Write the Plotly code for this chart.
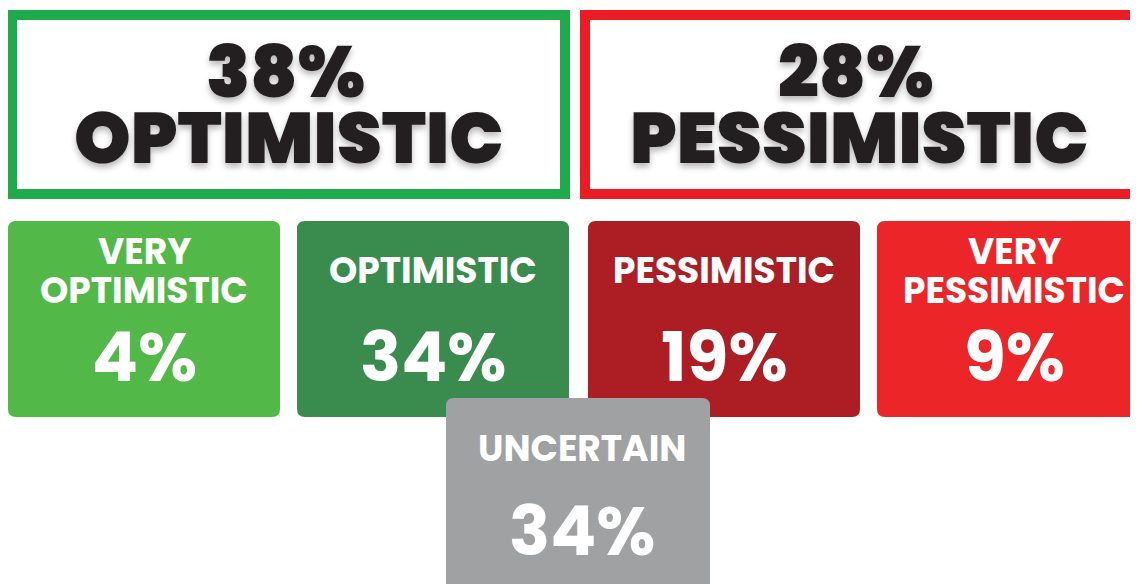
import plotly.graph_objects as go

# ---- data ----
summary_labels = ["OPTIMISTIC", "PESSIMISTIC"]
summary_values = [38, 28]
tile_labels = [["VERY", "OPTIMISTIC"], ["OPTIMISTIC"], ["PESSIMISTIC"], ["VERY", "PESSIMISTIC"], ["UNCERTAIN"]]
tile_values = [4, 34, 19, 9, 34]

# ---- style / layout ----
W, H = 1138, 584
PAD = 8  # page body margin
summary_colors = ["#1FAA4B", "#EC1C24"]
summary_boxes = [(7, 570, 10, 199), (580, 1142, 10, 199)]
tile_colors = ["#52B848", "#3A8C4E", "#AC1E24", "#EC2628", "#A0A1A3"]
tile_boxes = [(8, 280, 221, 417), (297, 569, 221, 417), (588, 860, 221, 417),
              (877, 1150, 221, 417), (446, 710, 398, 600)]
text_cx = [144, 433, 724, 1014, 582]
label_y = {1: [270], 2: [251, 290]}
num_y = [357, 357, 357, 357, 531]
label_y_gray = 448

FONT = "Poppins, Inter, 'Open Sans', Arial, sans-serif"

def rrect(x0, x1, y0, y1, r=8):
    return (f"M{x0+r},{y0} L{x1-r},{y0} Q{x1},{y0} {x1},{y0+r} "
            f"L{x1},{y1-r} Q{x1},{y1} {x1-r},{y1} L{x0+r},{y1} "
            f"Q{x0},{y1} {x0},{y1-r} L{x0},{y0+r} Q{x0},{y0} {x0+r},{y0} Z")

fig = go.Figure()
fig.add_trace(go.Scatter(x=[PAD, W], y=[PAD, H], mode="markers",
                         marker=dict(opacity=0), hoverinfo="skip", showlegend=False))

shapes = []
annotations = []
bw = 10
shadow = "0px 4px 6px rgba(0,0,0,0.28)"
for (x0, x1, y0, y1), col, lab, val in zip(summary_boxes, summary_colors, summary_labels, summary_values):
    shapes.append(dict(type="rect", xref="x", yref="y",
                       x0=x0 + bw / 2, x1=x1 - bw / 2, y0=y0 + bw / 2, y1=y1 - bw / 2,
                       line=dict(color=col, width=bw), fillcolor="white"))
    cx = (x0 + min(x1, 1138)) / 2
    annotations.append(dict(x=cx - 3, y=71, xref="x", yref="y", text=f"{val}%", showarrow=False,
                            xanchor="center", yanchor="middle",
                            font=dict(family=FONT, size=72, color="#231F20", weight=900, shadow=shadow)))
    annotations.append(dict(x=cx, y=137, xref="x", yref="y", text=lab, showarrow=False,
                            xanchor="center", yanchor="middle",
                            font=dict(family=FONT, size=72, color="#231F20", weight=900, shadow=shadow)))

for i, ((x0, x1, y0, y1), col, lab, val) in enumerate(zip(tile_boxes, tile_colors, tile_labels, tile_values)):
    shapes.append(dict(type="path", xref="x", yref="y", path=rrect(x0, x1, y0, y1),
                       fillcolor=col, line=dict(width=0), layer="above"))
    cx = text_cx[i]
    ys = [label_y_gray] if i == 4 else label_y[len(lab)]
    for line, yy in zip(lab, ys):
        annotations.append(dict(x=cx, y=yy, xref="x", yref="y", text=line, showarrow=False,
                                xanchor="center", yanchor="middle",
                                font=dict(family=FONT, size=36, color="white", weight=700)))
    annotations.append(dict(x=cx, y=num_y[i], xref="x", yref="y", text=f"{val}%", showarrow=False,
                            xanchor="center", yanchor="middle",
                            font=dict(family=FONT, size=68, color="white", weight=700)))

# page body has an 8px margin: offset the axes so the picture lines up with the viewport
fig.update_layout(
    width=W - PAD, height=H - PAD, autosize=False,
    margin=dict(l=0, r=0, t=0, b=0),
    paper_bgcolor="white", plot_bgcolor="white",
    xaxis=dict(range=[PAD, W], visible=False, fixedrange=True),
    yaxis=dict(range=[H, PAD], visible=False, fixedrange=True),
    shapes=shapes, annotations=annotations, showlegend=False,
)

fig.write_html("out.html", config={"displayModeBar": False})
